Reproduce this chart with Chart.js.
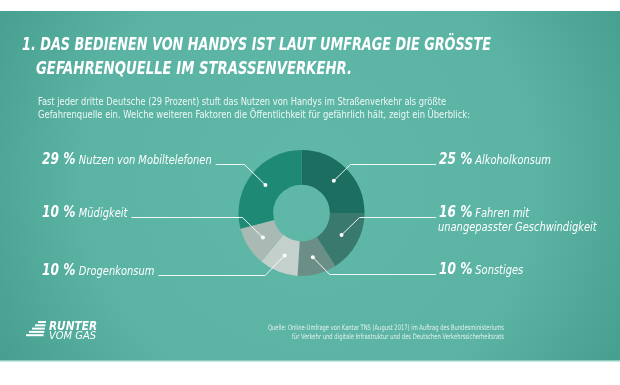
<!DOCTYPE html>
<html><head><meta charset="utf-8">
<script src="https://cdn.jsdelivr.net/npm/chart.js@4/dist/chart.umd.min.js"></script>
<style>html,body{margin:0;padding:0;background:#fff;overflow:hidden}canvas{display:block}</style>
</head><body>
<canvas id="c" width="620" height="385"></canvas>
<script>
// ---------- data ----------
const categories = [
  ['Alkoholkonsum'],
  ['Fahren mit', 'unangepasster Geschwindigkeit'],
  ['Sonstiges'],
  ['Drogenkonsum'],
  ['Müdigkeit'],
  ['Nutzen von Mobiltelefonen']
];
const values = [25, 16, 10, 10, 10, 29];
const titleLines = [
  '1. DAS BEDIENEN VON HANDYS IST LAUT UMFRAGE DIE GRÖSSTE',
  'GEFAHRENQUELLE IM STRASSENVERKEHR.'
];
const subtitleLines = [
  'Fast jeder dritte Deutsche (29 Prozent) stuft das Nutzen von Handys im Straßenverkehr als größte',
  'Gefahrenquelle ein. Welche weiteren Faktoren die Öffentlichkeit für gefährlich hält, zeigt ein Überblick:'
];
const sourceLines = [
  'Quelle: Online-Umfrage von Kantar TNS (August 2017) im Auftrag des Bundesministeriums',
  'für Verkehr und digitale Infrastruktur und des Deutschen Verkehrssicherheitsrats'
];
const logoLines = ['RUNTER', 'VOM GAS'];

// ---------- style / layout ----------
const segmentColors = ['#1b6e60', '#3a7a6e', '#6b8f86', '#c4d0cc', '#a9b9b4', '#1e8a75'];
const labelLayout = [
  { side: 'right', y: 164 },
  { side: 'right', y: 217 },
  { side: 'right', y: 274 },
  { side: 'left',  y: 275 },
  { side: 'left',  y: 217 },
  { side: 'left',  y: 164 }
];
const FAM = '"Liberation Sans Narrow", "DejaVu Sans Condensed", Roboto, sans-serif';

function drawText(ctx, s, x, y, font, sx, color, align) {
  ctx.save();
  ctx.font = font;
  ctx.fillStyle = color;
  ctx.textBaseline = 'alphabetic';
  ctx.textAlign = 'left';
  const w = ctx.measureText(s).width * sx;
  const x0 = align === 'right' ? x - w : x;
  ctx.translate(x0, y);
  ctx.scale(sx, 1);
  ctx.fillText(s, 0, 0);
  ctx.restore();
  return w;
}
function fitText(ctx, s, x, y, font, targetW, color, align) {
  ctx.save(); ctx.font = font; const w = ctx.measureText(s).width; ctx.restore();
  return drawText(ctx, s, x, y, font, targetW / w, color, align);
}

const bgPlugin = {
  id: 'bg',
  beforeDraw(chart) {
    const ctx = chart.ctx;
    ctx.save();
    ctx.fillStyle = '#ffffff';
    ctx.fillRect(0, 0, 620, 385);
    const g = ctx.createRadialGradient(310, 180, 30, 310, 180, 430);
    g.addColorStop(0, '#5eb7a7');
    g.addColorStop(0.5, '#5ab3a3');
    g.addColorStop(1, '#3b9483');
    ctx.fillStyle = g;
    ctx.fillRect(0, 11, 620, 350);
    ctx.fillStyle = '#8fcfc2';
    ctx.fillRect(0, 360, 620, 1.5);
    ctx.restore();
  }
};

const textPlugin = {
  id: 'texts',
  afterDraw(chart) {
    const ctx = chart.ctx;
    // title
    fitText(ctx, titleLines[0], 22, 50, 'italic bold 18px ' + FAM, 469, '#ffffff');
    fitText(ctx, titleLines[1], 36, 74, 'italic bold 18px ' + FAM, 316, '#ffffff');
    // subtitle
    fitText(ctx, subtitleLines[0], 38, 104.5, '11px ' + FAM, 408, '#eef7f5');
    fitText(ctx, subtitleLines[1], 38, 117.5, '11px ' + FAM, 432, '#eef7f5');

    // labels + leaders
    const meta = chart.getDatasetMeta(0);
    const pctFont = 'italic bold 15px ' + FAM;
    const lblFont = 'italic 12.5px ' + FAM;
    const PS = 0.9, LS = 0.88;
    meta.data.forEach((arc, i) => {
      const L = labelLayout[i];
      const pct = values[i] + ' %';
      const lines = categories[i];
      const p = arc.tooltipPosition();
      let lineA;
      if (L.side === 'left') {
        const x0 = 42;
        const pw = drawText(ctx, pct, x0, L.y, pctFont, PS, '#ffffff');
        const tw = drawText(ctx, lines[0], x0 + pw + 3.5, L.y, lblFont, LS, '#ffffff');
        const endX = x0 + pw + 3.5 + tw + 4;
        const elbowX = p.x - Math.abs(p.y - L.y);
        lineA = [endX, elbowX];
      } else {
        const x0 = 439;
        const pw = drawText(ctx, pct, x0, L.y, pctFont, PS, '#ffffff');
        drawText(ctx, lines[0], x0 + pw + 3, L.y, lblFont, LS, '#ffffff');
        for (let k = 1; k < lines.length; k++) {
          drawText(ctx, lines[k], 438, L.y + 14 * k, lblFont, LS, '#ffffff');
        }
        const elbowX = p.x + Math.abs(p.y - L.y);
        lineA = [436, elbowX];
      }
      ctx.save();
      ctx.strokeStyle = 'rgba(255,255,255,0.9)';
      ctx.lineWidth = 1;
      ctx.beginPath();
      ctx.moveTo(lineA[0], L.y + 0.5);
      ctx.lineTo(lineA[1], L.y + 0.5);
      ctx.lineTo(p.x, p.y);
      ctx.stroke();
      ctx.fillStyle = '#ffffff';
      ctx.beginPath();
      ctx.arc(p.x, p.y, 2, 0, Math.PI * 2);
      ctx.fill();
      ctx.restore();
    });

    // source
    fitText(ctx, sourceLines[0], 504, 330, '7.5px ' + FAM, 236, '#e2f1ee', 'right');
    fitText(ctx, sourceLines[1], 504, 338.5, '7.5px ' + FAM, 212, '#e2f1ee', 'right');

    // logo
    ctx.save();
    ctx.fillStyle = '#ffffff';
    for (let k = 0; k < 5; k++) {
      const y = 321 + k * 3.3;
      const left = 38 - k * 3;
      const right = 46 - k * 0.6;
      ctx.fillRect(left, y, right - left, 2);
    }
    ctx.restore();
    fitText(ctx, logoLines[0], 49, 329.5, 'italic bold 12px ' + FAM, 48, '#ffffff');
    fitText(ctx, logoLines[1], 49, 338.5, 'italic 11px ' + FAM, 47, '#ffffff');
  }
};

new Chart(document.getElementById('c'), {
  type: 'doughnut',
  data: {
    labels: categories,
    datasets: [{
      data: values,
      backgroundColor: segmentColors,
      borderWidth: 0
    }]
  },
  options: {
    responsive: false,
    animation: false,
    devicePixelRatio: 1,
    cutout: '45%',
    layout: { padding: { left: 238.5, right: 255.5, top: 150, bottom: 109 } },
    plugins: { legend: { display: false }, tooltip: { enabled: false } }
  },
  plugins: [bgPlugin, textPlugin]
});
</script>
</body></html>
